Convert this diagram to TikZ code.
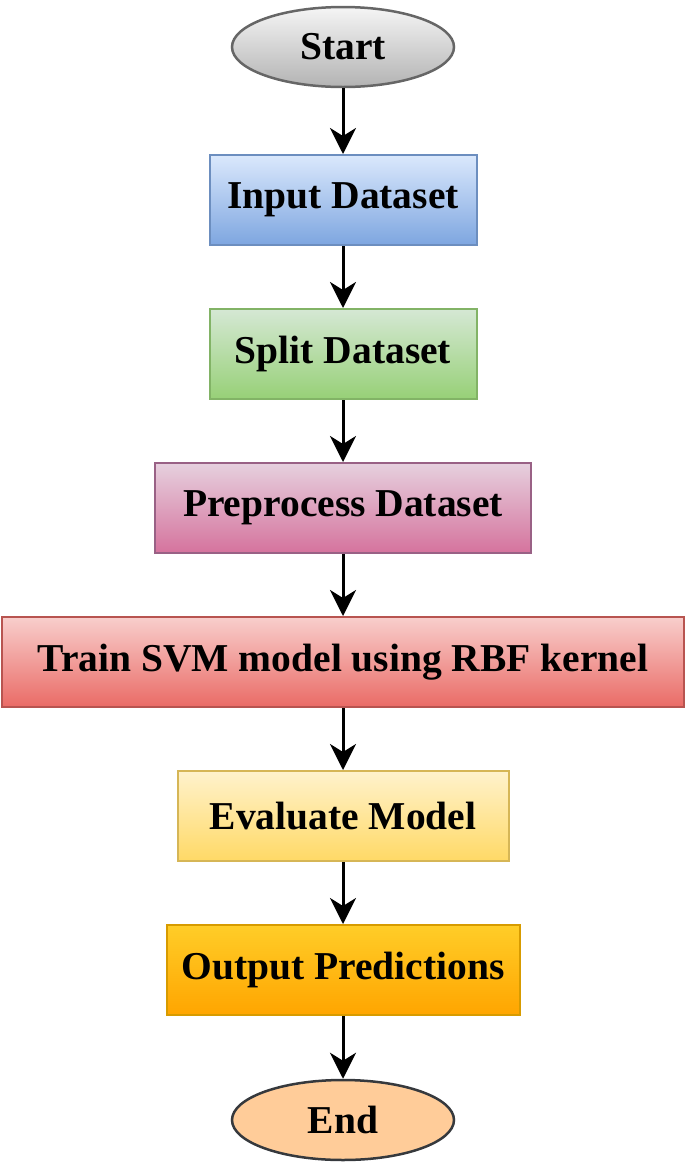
\documentclass[tikz,border=0pt]{standalone}
\usepackage{xcolor}
\usepackage{fontspec}
\setmainfont{Liberation Serif}
\usepackage{tikz}
\usetikzlibrary{shapes.geometric, arrows.meta}

\definecolor{blueTop}{HTML}{DAE8FC}
\definecolor{blueBot}{HTML}{7EA6E0}
\definecolor{blueLine}{HTML}{6C8EBF}
\definecolor{greenTop}{HTML}{D5E8D4}
\definecolor{greenBot}{HTML}{97D077}
\definecolor{greenLine}{HTML}{82B366}
\definecolor{pinkTop}{HTML}{E6D0DE}
\definecolor{pinkBot}{HTML}{D5739D}
\definecolor{pinkLine}{HTML}{996185}
\definecolor{redTop}{HTML}{F8CECC}
\definecolor{redBot}{HTML}{EA6B66}
\definecolor{redLine}{HTML}{B85450}
\definecolor{yellowTop}{HTML}{FFF2CC}
\definecolor{yellowBot}{HTML}{FFD966}
\definecolor{yellowLine}{HTML}{D6B656}
\definecolor{orangeTop}{HTML}{FFCD28}
\definecolor{orangeBot}{HTML}{FFA500}
\definecolor{orangeLine}{HTML}{D79B00}
\definecolor{grayTop}{HTML}{F5F5F5}
\definecolor{grayBot}{HTML}{B3B3B3}
\definecolor{grayLine}{HTML}{666666}
\definecolor{peach}{HTML}{FFCC99}
\definecolor{darkLine}{HTML}{36393D}

\tikzset{
    stepbox/.style={draw, rectangle, line width=2pt, minimum height=90pt,
        font=\fontsize{39.5}{45}\selectfont\bfseries},
    terminal/.style={draw, ellipse, line width=2.5pt, minimum width=222pt,
        minimum height=80pt, font=\fontsize{39.5}{45}\selectfont\bfseries},
    flow/.style={line width=3pt, -{Stealth[length=26pt, width=26pt, inset=8pt]}}
}

\begin{document}
\begin{tikzpicture}[x=1pt, y=-1pt]
            \useasboundingbox (0, 0) rectangle (685, 1168);
            \node[terminal, draw=grayLine, top color=grayTop, bottom color=grayBot] at (343, 47) (start) {Start};
            \node[stepbox, draw=blueLine, top color=blueTop, bottom color=blueBot, minimum width=267pt] at (343, 200) (input) {Input Dataset};
            \node[stepbox, draw=greenLine, top color=greenTop, bottom color=greenBot, minimum width=267pt] at (343, 354) (split) {Split Dataset};
            \node[stepbox, draw=pinkLine, top color=pinkTop, bottom color=pinkBot, minimum width=376pt] at (343, 508) (prep) {Preprocess Dataset};
            \node[stepbox, draw=redLine, top color=redTop, bottom color=redBot, minimum width=682pt] at (343, 662) (train) {Train SVM model using RBF kernel};
            \node[stepbox, draw=yellowLine, top color=yellowTop, bottom color=yellowBot, minimum width=331pt] at (343, 816) (eval) {Evaluate Model};
            \node[stepbox, draw=orangeLine, top color=orangeTop, bottom color=orangeBot, minimum width=353pt] at (343, 970) (output) {Output Predictions};
            \node[terminal, draw=darkLine, fill=peach] at (343, 1120) (end) {End};
            \draw[flow] (start) -- (input);
            \draw[flow] (input) -- (split);
            \draw[flow] (split) -- (prep);
            \draw[flow] (prep) -- (train);
            \draw[flow] (train) -- (eval);
            \draw[flow] (eval) -- (output);
            \draw[flow] (output) -- (end);
    \end{tikzpicture}
\end{document}
